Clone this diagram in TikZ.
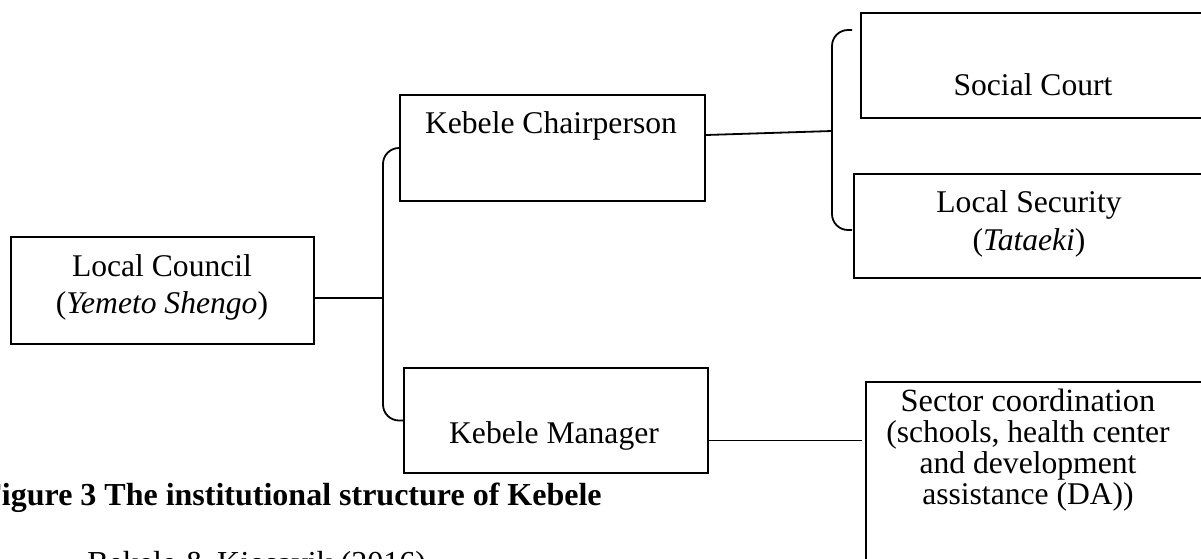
\documentclass[tikz,border=0pt]{standalone}
\usepackage{fontspec}
\setmainfont{Liberation Serif}
\begin{document}
\begin{tikzpicture}[x=0.5pt,y=-0.5pt,
  box/.style={draw, line width=1pt, inner sep=0pt, anchor=north west},
  txt/.style={anchor=base, inner sep=0pt, font=\fontsize{15.8pt}{18pt}\selectfont},
  captiontext/.style={anchor=base west, inner sep=0pt, font=\fontsize{16pt}{18pt}\selectfont\bfseries},
  srctext/.style={anchor=base west, inner sep=0pt, font=\fontsize{16pt}{18pt}\selectfont},
  link/.style={line width=0.9pt},
  brace/.style={line width=0.9pt, rounded corners=8pt}]
\useasboundingbox (0,0) rectangle (1201,558);
\clip (0,0) rectangle (1201,558);
% boxes
\node[box, minimum width=151.5pt, minimum height=53.5pt] (lc) at (10,236) {};
\node[box, minimum width=152.5pt, minimum height=53pt] (kc) at (399,94) {};
\node[box, minimum width=152pt, minimum height=52.5pt] (km) at (403,367) {};
\node[box, minimum width=175pt, minimum height=52.5pt] (sc) at (860,12) {};
\node[box, minimum width=178pt, minimum height=52pt] (ls) at (853,173) {};
\node[box, minimum width=176pt, minimum height=100pt] (sec) at (865,381) {};
% texts
\node[txt] (lc1) at (162,276) {Local Council};
\node[txt] (lc2) at (162,313) {(\textit{Yemeto Shengo})};
\node[txt] (kct) at (551,133) {Kebele Chairperson};
\node[txt] (kmt) at (554,443) {Kebele Manager};
\node[txt] (sct) at (1033,95) {Social Court};
\node[txt] (ls1) at (1029,212) {Local Security};
\node[txt] (ls2) at (1029,250) {(\textit{Tataeki})};
\node[txt, font=\fontsize{16.2pt}{18pt}\selectfont] (se1) at (1028,411) {Sector coordination};
\node[txt] (se2) at (1028,442) {(schools, health center};
\node[txt] (se3) at (1028,473) {and development};
\node[txt] (se4) at (1028,504) {assistance (DA))};
\node[captiontext] (cap1) at (-18,505) {Figure 3 The institutional structure of Kebele};
\node[srctext] (cap2) at (87,573) {Bekele \& Kjosavik (2016)};
% junctions
\coordinate (lj) at (383,298);
\coordinate (rj) at (832,131);
\coordinate (rbt) at (852,30);
\coordinate (rbb) at (852,230);
% connectors
\draw[link] (lj -| lc.east) -- (lj);
\draw[brace] (kc.west) -| (lj) |- (km.west);
\draw[link] ([yshift=6.5pt]kc.east) -- (rj);
\draw[brace] (rbt) -| (rj) |- (rbb);
\draw[link] ([yshift=-10pt]km.east) -- ([yshift=-10pt,xshift=-1.5pt]km.east -| sec.west);
\end{tikzpicture}
\end{document}
